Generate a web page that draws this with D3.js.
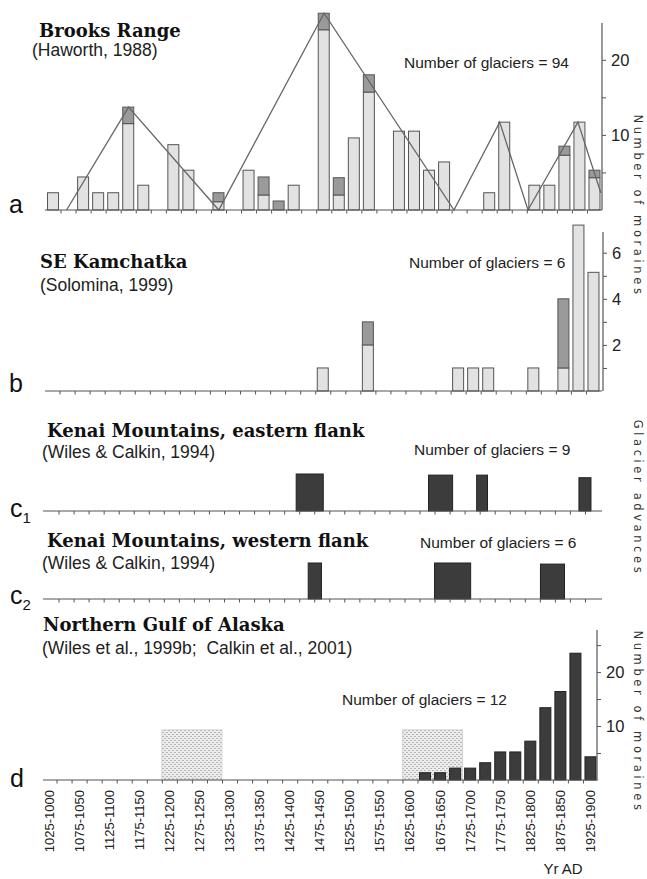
<!DOCTYPE html>
<html><head><meta charset="utf-8">
<script src="https://cdn.jsdelivr.net/npm/d3@7"></script>
<style>
html,body{margin:0;padding:0;background:#fff;}
svg{display:block;}
text{white-space:pre;}
</style></head>
<body>
<svg id="chart" width="647" height="879"></svg>
<script>
// ---------- DATA ----------
const binStarts = [1000,1025,1050,1075,1100,1125,1150,1175,1200,1225,1250,1275,1300,1325,1350,1375,1400,1425,1450,1475,1500,1525,1550,1575,1600,1625,1650,1675,1700,1725,1750,1775,1800,1825,1850,1875,1900];
const binLabelStarts = [1000,1050,1100,1150,1200,1250,1300,1350,1400,1450,1500,1550,1600,1650,1700,1750,1800,1850,1900];
const binLabels = ["1025-1000","1075-1050","1125-1100","1175-1150","1225-1200","1275-1250","1325-1300","1375-1350","1425-1400","1475-1450","1525-1500","1575-1550","1625-1600","1675-1650","1725-1700","1775-1750","1825-1800","1875-1850","1925-1900"];

// a: Brooks Range (light = lower part, dark = cap)
const brooksBins  = [1000,1050,1075,1100,1125,1150,1200,1225,1275,1325,1350,1375,1400,1450,1475,1500,1525,1575,1600,1625,1650,1725,1750,1800,1825,1850,1875,1900];
const brooksLight = [2.3,4.4,2.3,2.3,11.5,3.3,8.7,5.3,1.1,5.3,2.0,0,3.3,24.0,2.0,9.6,15.7,10.5,10.5,5.3,6.4,2.3,11.7,3.3,3.3,7.3,11.7,4.3];
const brooksDark  = [0,0,0,0,2.2,0,0,0,1.2,0,2.4,1.2,0,2.2,2.3,0,2.3,0,0,0,0,0,0,0,0,1.2,0,1.0];
const brooksTrendYears = [1035,1138,1288,1463,1679,1755,1802,1885,1923];
const brooksTrendVals  = [0,13.7,0,26.2,0,11.7,0,11.7,2.3];
const brooksTicks = [5,10,15,20];
const brooksTickLabels = ["","10","","20"];

// b: SE Kamchatka
const kamBins  = [1450,1525,1675,1700,1725,1800,1850,1875,1900];
const kamLight = [1,2,1,1,1,1,1,7.2,5.15];
const kamDark  = [0,1,0,0,0,0,3,0,0];
const kamTicks = [1,2,3,4,5,6];
const kamTickLabels = ["","2","","4","","6"];

// c1 / c2: Kenai Mountains advances
const kenaiEStart = [1420,1640,1720,1890];
const kenaiEEnd   = [1465,1680,1738,1910];
const kenaiEVal   = [1,0.97,0.97,0.9];
const kenaiWStart = [1440,1650,1826];
const kenaiWEnd   = [1462,1710,1866];
const kenaiWVal   = [1,1,0.97];

// d: Northern Gulf of Alaska
const alaskaBins = [1625,1650,1675,1700,1725,1750,1775,1800,1825,1850,1875,1900];
const alaskaVals = [1.35,1.35,2.2,2.2,3.2,5.2,5.2,7.2,13.4,16.4,23.5,4.3];
const alaskaHatchStart = [1200,1600];
const alaskaHatchEnd   = [1300,1700];
const alaskaHatchVal   = [9.3,9.3];
const alaskaTicks = [5,10,15,20,25];
const alaskaTickLabels = ["","10","","20",""];

// ---------- DRAW ----------
const svg = d3.select("#chart");
const SERIF = "'DejaVu Serif', serif";
const SANS = "'Liberation Sans', Arial, sans-serif";
const AX = "#555";

const defs = svg.append("defs");
const pat = defs.append("pattern").attr("id","hatch").attr("patternUnits","userSpaceOnUse")
  .attr("width",4).attr("height",4);
pat.append("rect").attr("width",4).attr("height",4).attr("fill","#ececec");
pat.append("path").attr("d","M0,3 L1,2 L2,3 M2,1 L3,0 L4,1").attr("stroke","#a8a8a8").attr("stroke-width",0.8).attr("fill","none");

const x = d3.scaleLinear().domain([1000,1925]).range([45.5,602]);
const binW = x(1025)-x(1000);
const barW = 11;

function xAxis(g, y0, x0, x1){
  g.append("line").attr("x1",x0).attr("x2",x1).attr("y1",y0).attr("y2",y0)
    .attr("stroke",AX).attr("stroke-width",1.2);
  const ax = d3.axisBottom(x).tickValues(binStarts.slice(1)).tickSize(3.5).tickFormat("");
  const a = g.append("g").attr("transform",`translate(0,${y0})`).call(ax);
  a.select(".domain").remove();
  a.selectAll("line").attr("stroke",AX).attr("stroke-width",1);
}
function yAxis(g, yScale, ticks, labels, xPos, fs){
  const ax = d3.axisRight(yScale).tickValues(ticks).tickSize(4)
    .tickFormat((d,i)=>labels[i]).tickPadding(5);
  const a = g.append("g").attr("transform",`translate(${xPos},0)`).call(ax);
  a.select(".domain").attr("stroke",AX).attr("stroke-width",1.2).attr("d",`M0,${yScale.range()[0]}V${yScale.range()[1]}`);
  a.selectAll("line").attr("stroke",AX);
  a.selectAll("text").attr("font-family",SANS).attr("font-size",fs).attr("fill","#222");
}
function titles(g, t, sub, tx, ty, sx, sy){
  g.append("text").attr("x",tx).attr("y",ty).text(t)
    .attr("font-family",SERIF).attr("font-weight","bold").attr("font-size",18).attr("fill","#111");
  g.append("text").attr("x",sx).attr("y",sy).text(sub)
    .attr("font-family",SANS).attr("font-size",17.5).attr("fill","#222");
}
function ngl(g, txt, tx, ty){
  g.append("text").attr("x",tx).attr("y",ty).text(txt)
    .attr("font-family",SANS).attr("font-size",15.5).attr("fill","#222");
}
function panelLabel(g, txt, sub, tx, ty){
  const t = g.append("text").attr("x",tx).attr("y",ty)
    .attr("font-family",SANS).attr("font-size",25).attr("fill","#111").text(txt);
  if(sub){ t.append("tspan").attr("dy",6).attr("font-size",15).text(sub); }
}

// ---- Panel a ----
{
  const g = svg.append("g");
  const y = d3.scaleLinear().domain([0,24.9]).range([210,23]);
  titles(g,"Brooks Range","(Haworth, 1988)",39,37,32,56);
  ngl(g,"Number of glaciers = 94",404,68);
  panelLabel(g,"a",null,9,213);
  brooksBins.forEach((b,i)=>{
    const x0 = x(b)+(binW-barW)/2;
    if(brooksLight[i]>0)
      g.append("rect").attr("x",x0).attr("width",barW).attr("y",y(brooksLight[i])).attr("height",y(0)-y(brooksLight[i]))
        .attr("fill","#e2e2e2").attr("stroke","#555").attr("stroke-width",1);
    if(brooksDark[i]>0){
      const top = brooksLight[i]+brooksDark[i];
      g.append("rect").attr("x",x0).attr("width",barW).attr("y",y(top)).attr("height",y(brooksLight[i])-y(top))
        .attr("fill","#9a9a9a").attr("stroke","#555").attr("stroke-width",1);
    }
  });
  const line = d3.line().x(d=>x(d[0])).y(d=>y(d[1]));
  g.append("path").datum(brooksTrendYears.map((yr,i)=>[yr,brooksTrendVals[i]]))
    .attr("d",line).attr("fill","none").attr("stroke","#666").attr("stroke-width",1.3);
  xAxis(g,210,45,602);
  yAxis(g,y,brooksTicks,brooksTickLabels,602,16.5);
}

// ---- Panel b ----
{
  const g = svg.append("g").attr("transform","translate(-1,0)");
  const y = d3.scaleLinear().domain([0,6.9]).range([391,232]);
  titles(g,"SE Kamchatka","(Solomina, 1999)",41,268,41,291);
  ngl(g,"Number of glaciers = 6",410,268);
  panelLabel(g,"b",null,10,392);
  kamBins.forEach((b,i)=>{
    const x0 = x(b)+(binW-barW)/2;
    if(kamLight[i]>0)
      g.append("rect").attr("x",x0).attr("width",barW).attr("y",y(kamLight[i])).attr("height",y(0)-y(kamLight[i]))
        .attr("fill","#e2e2e2").attr("stroke","#555").attr("stroke-width",1);
    if(kamDark[i]>0){
      const top = kamLight[i]+kamDark[i];
      g.append("rect").attr("x",x0).attr("width",barW).attr("y",y(top)).attr("height",y(kamLight[i])-y(top))
        .attr("fill","#9a9a9a").attr("stroke","#555").attr("stroke-width",1);
    }
  });
  xAxis(g,391,46,603);
  yAxis(g,y,kamTicks,kamTickLabels,604,16.5);
}

// ---- Panel c1 ----
{
  const g = svg.append("g").attr("transform","translate(-2,0)");
  const y = d3.scaleLinear().domain([0,1]).range([511,474]);
  titles(g,"Kenai Mountains, eastern flank","(Wiles & Calkin, 1994)",49,437,44,458);
  ngl(g,"Number of glaciers = 9",416,455);
  panelLabel(g,"c","1",12,517);
  kenaiEStart.forEach((s,i)=>{
    g.append("rect").attr("x",x(s)).attr("width",x(kenaiEEnd[i])-x(s)).attr("y",y(kenaiEVal[i])).attr("height",y(0)-y(kenaiEVal[i]))
      .attr("fill","#3c3c3c").attr("stroke","#222").attr("stroke-width",1);
  });
  xAxis(g,511,45,604);
}

// ---- Panel c2 ----
{
  const g = svg.append("g").attr("transform","translate(-2,0)");
  const y = d3.scaleLinear().domain([0,1]).range([599,563]);
  titles(g,"Kenai Mountains, western flank","(Wiles & Calkin, 1994)",49,547,44,569);
  ngl(g,"Number of glaciers = 6",422,548);
  panelLabel(g,"c","2",12,604);
  kenaiWStart.forEach((s,i)=>{
    g.append("rect").attr("x",x(s)).attr("width",x(kenaiWEnd[i])-x(s)).attr("y",y(kenaiWVal[i])).attr("height",y(0)-y(kenaiWVal[i]))
      .attr("fill","#3c3c3c").attr("stroke","#222").attr("stroke-width",1);
  });
  xAxis(g,599,45,604);
}

// ---- Panel d ----
{
  const g = svg.append("g").attr("transform","translate(-4,0)");
  const y = d3.scaleLinear().domain([0,27.8]).range([780,630]);
  titles(g,"Northern Gulf of Alaska","(Wiles et al., 1999b;  Calkin et al., 2001)",47,631,46,654);
  ngl(g,"Number of glaciers = 12",346,705);
  panelLabel(g,"d",null,14,787);
  alaskaHatchStart.forEach((s,i)=>{
    g.append("rect").attr("x",x(s)).attr("width",x(alaskaHatchEnd[i])-x(s)).attr("y",y(alaskaHatchVal[i])).attr("height",y(0)-y(alaskaHatchVal[i]))
      .attr("fill","url(#hatch)").attr("stroke","#cfcfcf").attr("stroke-width",0.8);
  });
  alaskaBins.forEach((b,i)=>{
    const x0 = x(b)+(binW-barW)/2;
    g.append("rect").attr("x",x0).attr("width",barW).attr("y",y(alaskaVals[i])).attr("height",y(0)-y(alaskaVals[i]))
      .attr("fill","#3c3c3c").attr("stroke","#222").attr("stroke-width",1);
  });
  xAxis(g,780,47,602);
  yAxis(g,y,alaskaTicks,alaskaTickLabels,601,16.5);
  // bin labels
  binLabelStarts.forEach((b,i)=>{
    const cx = x(b)+binW/2;
    g.append("text").attr("transform",`translate(${cx},790) rotate(-90)`)
      .attr("text-anchor","end").attr("dominant-baseline","central")
      .attr("font-family",SANS).attr("font-size",13).attr("fill","#222").text(binLabels[i]);
  });
}

// ---- axis titles ----
function vTitle(txt, cx, cy){
  svg.append("text").attr("transform",`translate(${cx},${cy}) rotate(90)`)
    .attr("text-anchor","middle").attr("dominant-baseline","central")
    .attr("font-family","'DejaVu Sans', sans-serif").attr("font-size",11.5)
    .attr("letter-spacing","3.6px").attr("fill","#333").text(txt);
}
vTitle("Number of moraines",638,206);
vTitle("Glacier advances",638,498);
vTitle("Number of moraines",638,722);
svg.append("text").attr("x",563).attr("y",874).attr("text-anchor","middle")
  .attr("font-family",SANS).attr("font-size",15).attr("fill","#222").text("Yr AD");
</script>
</body></html>
